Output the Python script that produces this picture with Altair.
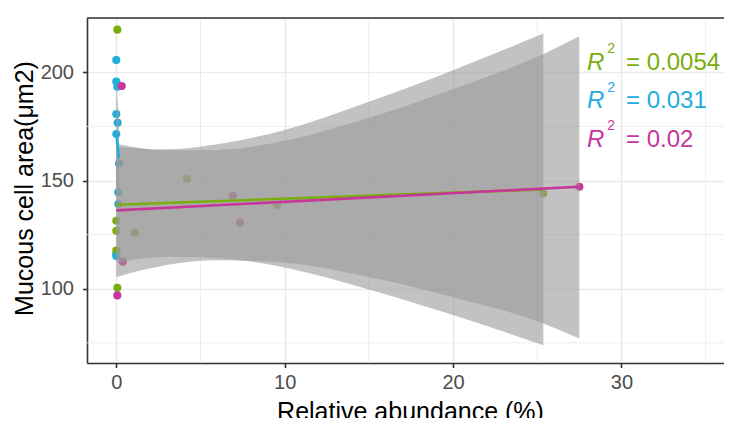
import altair as alt
import pandas as pd

# ---- data ----
green_x = [0.06, 0.0, 0.0, 1.1, 0.0, 0.0, 0.06, 4.2, 9.56, 25.36]
green_y = [219.7, 131.4, 126.8, 125.9, 117.6, 116.1, 100.4, 150.8, 138.7, 144.1]
blue_x = [0.0, 0.0, 0.06, 0.0, 0.08, 0.0, 0.16, 0.12, 0.12, 0.0]
blue_y = [205.7, 195.7, 193.3, 180.7, 176.7, 171.5, 157.9, 144.6, 139.1, 115.1]
mag_x = [0.32, 0.38, 0.06, 6.93, 7.35, 27.5]
mag_y = [193.7, 112.5, 96.9, 143.0, 130.5, 147.1]

green_fit_x = [0.0, 25.36]
green_fit_y = [138.8, 145.9]
blue_fit_x = [0.0, 0.16]
blue_fit_y = [172.0, 160.5]
mag_fit_x = [0.0, 27.5]
mag_fit_y = [136.2, 147.1]

green_band_x = [0, 3, 6, 10, 15, 20, 25.36]
green_band_lo = [112.1, 114.8, 114.2, 109.8, 99.6, 87.8, 73.9]
green_band_hi = [165.5, 164.4, 166.8, 173.4, 186.4, 201.0, 217.9]
blue_band_x = [0.0, 0.16]
blue_band_lo = [146.0, 143.0]
blue_band_hi = [196.0, 178.0]
mag_band_x = [0, 3, 6, 10, 15, 20, 25, 27.5]
mag_band_lo = [105.4, 110.9, 113.1, 112.0, 105.4, 96.0, 85.0, 77.0]
mag_band_hi = [167.0, 163.9, 164.1, 168.4, 179.0, 192.2, 207.2, 216.7]

r2_values = ["0.0054", "0.031", "0.02"]
groups = ["g1", "g2", "g3"]
x_ticks = [0, 10, 20, 30]
x_minor = [5, 15, 25, 35]
y_ticks = [100, 150, 200]
y_minor = [75, 125, 175]

# ---- styling ----
GREEN, BLUE, MAG = "#7AAE0C", "#22ADDC", "#C7379B"
colors = [GREEN, BLUE, MAG]
FONT = "Liberation Sans"
W, H = 637, 345
XDOM = [-1.74, 36.09]
YDOM = [65.67, 225.1]
xs = alt.Scale(domain=XDOM, nice=False, zero=False)
ys = alt.Scale(domain=YDOM, nice=False, zero=False)

pts = pd.concat([
    pd.DataFrame({"x": green_x, "y": green_y, "g": "g1"}),
    pd.DataFrame({"x": blue_x, "y": blue_y, "g": "g2"}),
    pd.DataFrame({"x": mag_x, "y": mag_y, "g": "g3"}),
])

xaxis = alt.Axis(values=x_ticks, grid=True, gridColor="#EBEBEB", gridWidth=1.6,
                 domain=True, domainColor="#333333", domainWidth=1.6,
                 tickColor="#333333", tickSize=4.5, tickWidth=1.6,
                 labelColor="#4D4D4D", labelFont=FONT, labelFontSize=20,
                 labelPadding=5, title="Relative abundance (%)",
                 titleFont=FONT, titleFontSize=25, titleFontWeight="normal",
                 titleColor="#000000", titleX=323, titleY=56,
                 titleBaseline="alphabetic", titleAnchor="middle")
yaxis = alt.Axis(values=y_ticks, grid=True, gridColor="#EBEBEB", gridWidth=1.6,
                 domain=True, domainColor="#333333", domainWidth=1.6,
                 tickColor="#333333", tickSize=4.5, tickWidth=1.6,
                 labelColor="#4D4D4D", labelFont=FONT, labelFontSize=20,
                 labelPadding=9, title="Mucous cell area(μm2)",
                 titleFont=FONT, titleFontSize=25, titleFontWeight="normal",
                 titleColor="#000000", titleAngle=270, titleX=-55, titleY=170,
                 titleBaseline="alphabetic", titleAlign="center")

base_pts = alt.Chart(pts).mark_circle(size=66, opacity=1).encode(
    x=alt.X("x:Q", scale=xs, axis=xaxis),
    y=alt.Y("y:Q", scale=ys, axis=yaxis),
    color=alt.Color("g:N", scale=alt.Scale(domain=groups, range=colors), legend=None),
)

minor_x = alt.Chart(pd.DataFrame({"v": x_minor})).mark_rule(color="#EBEBEB", strokeWidth=0.9).encode(
    x=alt.X("v:Q", scale=xs))
minor_y = alt.Chart(pd.DataFrame({"v": y_minor})).mark_rule(color="#EBEBEB", strokeWidth=0.9).encode(
    y=alt.Y("v:Q", scale=ys))


def band(bx, lo, hi):
    return alt.Chart(pd.DataFrame({"x": bx, "lo": lo, "hi": hi})).mark_area(
        color="#999999", opacity=0.6, interpolate="monotone").encode(
        x=alt.X("x:Q", scale=xs), y=alt.Y("lo:Q", scale=ys), y2="hi:Q")


def fit(fx, fy, c):
    return alt.Chart(pd.DataFrame({"x": fx, "y": fy})).mark_line(
        color=c, strokeWidth=2.6).encode(
        x=alt.X("x:Q", scale=xs), y=alt.Y("y:Q", scale=ys))


# label anchors (data units)
R_X, SUP_X, EQ_X = 27.95, 29.16, 30.27
base_y = [201.0, 183.3, 165.6]
sup_y = [208.7, 191.0, 173.3]
lab = pd.DataFrame({"g": groups, "by": base_y, "sy": sup_y,
                    "txt": ["= " + v for v in r2_values]})
cscale = alt.Scale(domain=groups, range=colors)
r_txt = alt.Chart(lab).mark_text(text="R", font=FONT, fontSize=24, fontStyle="italic",
                                  align="left", baseline="alphabetic").encode(
    x=alt.X("rx:Q", scale=xs), y=alt.Y("by:Q", scale=ys),
    color=alt.Color("g:N", scale=cscale, legend=None)).transform_calculate(rx=str(R_X))
s_txt = alt.Chart(lab).mark_text(text="2", font=FONT, fontSize=14,
                                  align="left", baseline="alphabetic").encode(
    x=alt.X("sx:Q", scale=xs), y=alt.Y("sy:Q", scale=ys),
    color=alt.Color("g:N", scale=cscale, legend=None)).transform_calculate(sx=str(SUP_X))
e_txt = alt.Chart(lab).mark_text(font=FONT, fontSize=24,
                                  align="left", baseline="alphabetic").encode(
    x=alt.X("ex:Q", scale=xs), y=alt.Y("by:Q", scale=ys), text="txt:N",
    color=alt.Color("g:N", scale=cscale, legend=None)).transform_calculate(ex=str(EQ_X))

top_border = alt.Chart(pd.DataFrame({"a": [0]})).mark_rule(
    color="#333333", strokeWidth=1.6).encode(
    x=alt.value(0), x2=alt.value(W), y=alt.value(0))

chart = alt.layer(
    minor_x, minor_y, base_pts,
    band(green_band_x, green_band_lo, green_band_hi),
    band(blue_band_x, blue_band_lo, blue_band_hi),
    band(mag_band_x, mag_band_lo, mag_band_hi),
    fit(green_fit_x, green_fit_y, GREEN),
    fit(blue_fit_x, blue_fit_y, BLUE),
    fit(mag_fit_x, mag_fit_y, MAG),
    r_txt, s_txt, e_txt, top_border,
).properties(
    width=W, height=H,
    autosize=alt.AutoSizeParams(type="none"),
    padding={"left": 79, "top": 10, "right": 0, "bottom": 55},
).configure_view(stroke=None).configure(background="white")

chart.save("out.html", embed_options={"renderer": "svg", "actions": False})
